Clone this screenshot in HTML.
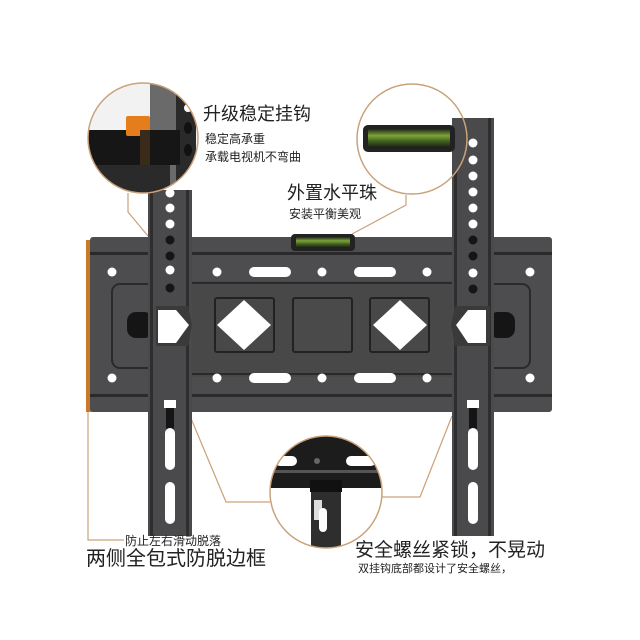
<!DOCTYPE html>
<html><head><meta charset="utf-8"><style>
html,body{margin:0;padding:0;background:#fff}
svg{display:block}
text{font-family:"Liberation Sans","Noto Sans CJK SC",sans-serif;fill:#222}
</style></head><body>
<svg width="640" height="640" viewBox="0 0 640 640" xmlns="http://www.w3.org/2000/svg">
<defs>
<clipPath id="c1"><circle cx="143" cy="138" r="55"/></clipPath>
<clipPath id="c2"><circle cx="412" cy="139" r="55"/></clipPath>
<clipPath id="c3"><circle cx="326" cy="492" r="56"/></clipPath>
<linearGradient id="lv" x1="0" y1="0" x2="0" y2="1"><stop offset="0" stop-color="#1e2a14"/><stop offset=".35" stop-color="#7ea23c"/><stop offset=".65" stop-color="#3f5f1c"/><stop offset="1" stop-color="#1a1a1a"/></linearGradient>
</defs>
<rect width="640" height="640" fill="#fff"/>
<g stroke="#c9a27a" stroke-width="1.2" fill="none">
<polyline points="128,193 128,212 148,236"/>
<polyline points="88,412 88,540 124,540"/>
<polyline points="406,195 406,205 352,234"/>
<polyline points="190,416 226,502 270,502"/>
<polyline points="382,497 420,497 452,416"/>
</g>
<rect x="86" y="240" width="7" height="172" fill="#c87a2a"/>
<rect x="90" y="237" width="462" height="175" rx="3" fill="#4d4d4f"/>
<rect x="90" y="252" width="462" height="3" fill="#2a2a2a"/>
<rect x="90" y="394" width="462" height="3" fill="#2a2a2a"/>
<rect x="112" y="284" width="418" height="84" rx="8" fill="none" stroke="#2a2a2a" stroke-width="2"/>
<rect x="192" y="281" width="260" height="96" fill="#484849"/>
<line x1="192" y1="283" x2="452" y2="283" stroke="#2a2a2a" stroke-width="2"/>
<line x1="192" y1="374" x2="452" y2="374" stroke="#2a2a2a" stroke-width="2"/>
<g fill="#fff">
<circle cx="112" cy="272" r="4.5"/><circle cx="530" cy="272" r="4.5"/>
<circle cx="112" cy="378" r="4.5"/><circle cx="530" cy="378" r="4.5"/>
<circle cx="217" cy="272" r="4.5"/><circle cx="322" cy="272" r="4.5"/><circle cx="427" cy="272" r="4.5"/>
<circle cx="217" cy="378" r="4.5"/><circle cx="322" cy="378" r="4.5"/><circle cx="427" cy="378" r="4.5"/>
<rect x="249" y="267" width="42" height="10" rx="5"/><rect x="354" y="267" width="42" height="10" rx="5"/>
<rect x="249" y="373" width="42" height="10" rx="5"/><rect x="354" y="373" width="42" height="10" rx="5"/>
</g>
<rect x="215" y="298" width="59" height="54" rx="2" fill="none" stroke="#222" stroke-width="2"/>
<rect x="293" y="298" width="59" height="54" rx="2" fill="#4a4a4b" stroke="#222" stroke-width="2"/>
<rect x="370" y="298" width="59" height="54" rx="2" fill="none" stroke="#222" stroke-width="2"/>
<polygon points="244,300 271,325 244,350 217,325" fill="#fff"/>
<polygon points="400,300 427,325 400,350 373,325" fill="#fff"/>
<rect x="291" y="234" width="64" height="17" rx="4" fill="#222"/>
<rect x="296" y="237" width="54" height="11" rx="2" fill="url(#lv)"/>
<rect x="127" y="312" width="26" height="26" rx="9" fill="#151515"/>
<rect x="489" y="312" width="26" height="26" rx="9" fill="#151515"/>
<rect x="148" y="190" width="44" height="346" fill="#4a4a4c"/>
<rect x="150" y="190" width="3" height="346" fill="#2e2e2e"/>
<rect x="186" y="190" width="3" height="346" fill="#2e2e2e"/>
<g fill="#fff"><circle cx="170" cy="193" r="4.5"/><circle cx="170" cy="208" r="4.5"/><circle cx="170" cy="224" r="4.5"/><circle cx="170" cy="270" r="4.5"/></g>
<g fill="#151515"><circle cx="170" cy="240" r="4.5"/><circle cx="170" cy="256" r="4.5"/><circle cx="170" cy="288" r="4.5"/></g>
<polygon points="156,306 188,306 192,325 188,346 156,346" fill="#3a3a3a"/>
<polygon points="158,310 176,310 189,325 176,343 158,343" fill="#fff"/>
<rect x="166" y="400" width="8" height="32" rx="4" fill="#151515"/><rect x="164" y="400" width="12" height="8" fill="#fff"/>
<rect x="165" y="428" width="10" height="42" rx="5" fill="#fff"/>
<rect x="165" y="482" width="10" height="42" rx="5" fill="#fff"/>
<rect x="452" y="118" width="42" height="418" fill="#4a4a4c"/>
<rect x="454" y="118" width="3" height="418" fill="#2e2e2e"/>
<rect x="488" y="118" width="3" height="418" fill="#2e2e2e"/>
<g fill="#fff"><circle cx="473" cy="143" r="4.5"/><circle cx="473" cy="160" r="4.5"/><circle cx="473" cy="176" r="4.5"/><circle cx="473" cy="192" r="4.5"/><circle cx="473" cy="208" r="4.5"/><circle cx="473" cy="224" r="4.5"/><circle cx="473" cy="273" r="4.5"/></g>
<g fill="#151515"><circle cx="473" cy="240" r="4.5"/><circle cx="473" cy="256" r="4.5"/><circle cx="473" cy="289" r="4.5"/></g>
<polygon points="455,306 490,306 490,346 455,346 451,325" fill="#3a3a3a"/>
<polygon points="456,325 468,310 486,310 486,343 468,343" fill="#fff"/>
<rect x="469" y="400" width="8" height="32" rx="4" fill="#151515"/><rect x="467" y="400" width="12" height="8" fill="#fff"/>
<rect x="468" y="428" width="10" height="42" rx="5" fill="#fff"/>
<rect x="468" y="482" width="10" height="42" rx="5" fill="#fff"/>
<g clip-path="url(#c1)">
<rect x="80" y="80" width="130" height="120" fill="#f2f2f2"/>
<rect x="150" y="80" width="45" height="120" fill="#6a6a6a"/>
<rect x="176" y="80" width="20" height="120" fill="#2a2a2a"/>
<rect x="80" y="130" width="100" height="35" fill="#161616"/>
<rect x="80" y="165" width="90" height="40" fill="#2a2a2a"/>
<rect x="126" y="116" width="24" height="20" rx="2" fill="#e67d1c"/>
<rect x="140" y="130" width="10" height="35" fill="#3a2a1a"/>
<g fill="#111"><ellipse cx="188" cy="128" rx="4" ry="6"/><ellipse cx="188" cy="150" rx="4" ry="6"/></g>
<circle cx="188" cy="108" r="4" fill="#fff"/>
</g>
<circle cx="143" cy="138" r="55" fill="none" stroke="#c9a27a" stroke-width="1.5"/>
<g clip-path="url(#c2)">
<rect x="350" y="80" width="130" height="120" fill="#fff"/>
<rect x="452" y="118" width="30" height="90" fill="#4a4a4c"/>
<rect x="363" y="125" width="92" height="27" rx="5" fill="#222"/>
<rect x="368" y="129" width="82" height="19" rx="2" fill="url(#lv)"/>
</g>
<circle cx="412" cy="139" r="55" fill="none" stroke="#c9a27a" stroke-width="1.5"/>
<g clip-path="url(#c3)">
<rect x="265" y="432" width="125" height="120" fill="#fff"/>
<rect x="265" y="432" width="125" height="56" fill="#1c1c1c"/>
<rect x="265" y="470" width="125" height="3" fill="#555"/>
<rect x="275" y="456" width="22" height="10" rx="5" fill="#fff"/><rect x="346" y="456" width="30" height="10" rx="5" fill="#fff"/>
<circle cx="317" cy="461" r="3" fill="#666"/>
<rect x="311" y="488" width="30" height="70" fill="#2e2e2e"/>
<rect x="314" y="500" width="8" height="20" fill="#ddd"/>
<rect x="319" y="508" width="8" height="24" rx="4" fill="#fff"/>
<rect x="310" y="480" width="32" height="12" fill="#111"/>
</g>
<circle cx="326" cy="492" r="56" fill="none" stroke="#c9a27a" stroke-width="1.5"/>
<text x="203" y="120" font-size="18">升级稳定挂钩</text>
<text x="205" y="143" font-size="12">稳定高承重</text>
<text x="205" y="161" font-size="12">承载电视机不弯曲</text>
<text x="287" y="199" font-size="18">外置水平珠</text>
<text x="289" y="218" font-size="12">安装平衡美观</text>
<text x="125" y="545" font-size="12">防止左右滑动脱落</text>
<text x="86" y="565" font-size="20">两侧全包式防脱边框</text>
<text x="355" y="556" font-size="19">安全螺丝紧锁，不晃动</text>
<text x="358" y="572" font-size="11">双挂钩底部都设计了安全螺丝，</text>
</svg>
</body></html>
